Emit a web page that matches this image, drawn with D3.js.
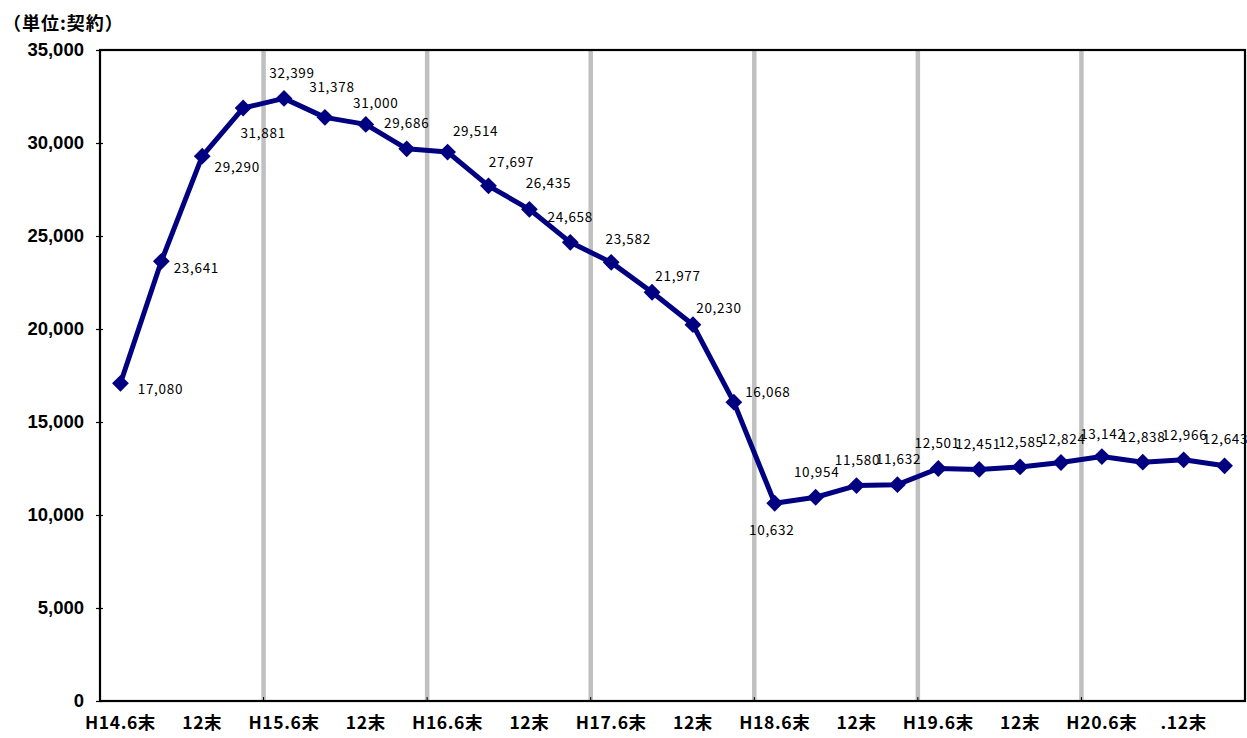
<!DOCTYPE html>
<html><head><meta charset="utf-8">
<script src="https://cdn.jsdelivr.net/npm/d3@7"></script>
<style>
body{margin:0;background:#fff;}
svg{display:block;}
</style></head>
<body>
<svg id="c" width="1247" height="738"></svg>
<script>
// ---- data ----
const periods = ["H14.6末","H14.9末","H14.12末","H15.3末","H15.6末","H15.9末","H15.12末","H16.3末",
  "H16.6末","H16.9末","H16.12末","H17.3末","H17.6末","H17.9末","H17.12末","H18.3末",
  "H18.6末","H18.9末","H18.12末","H19.3末","H19.6末","H19.9末","H19.12末","H20.3末",
  "H20.6末","H20.9末","H20.12末","H21.3末"];
const contracts = [17080,23641,29290,31881,32399,31378,31000,29686,29514,27697,26435,24658,
  23582,21977,20230,16068,10632,10954,11580,11632,12501,12451,12585,12824,13142,12838,12966,12643];
const tickLabels = ["H14.6末","12末","H15.6末","12末","H16.6末","12末","H17.6末","12末",
  "H18.6末","12末","H19.6末","12末","H20.6末",".12末"];
const yTicks = [0,5000,10000,15000,20000,25000,30000,35000];
const unitLabel = "（単位:契約）";

// ---- layout (label offsets relative to each marker: [dx, dy of baseline]) ----
const labelOffsets = [[40,11],[35,12],[35,16],[20,30],[8,-20],[7,-25],[10,-16],[0,-21],
  [28,-16],[23,-19],[19,-21],[0,-20],[17,-18],[26,-11],[26,-12],[34,-5],
  [-3,32],[1,-20],[1,-21],[1,-21],[-1,-20],[-1,-20],[1,-20],[2,-18],
  [1,-18],[0,-20],[1,-20],[1,-22]];

const L = 100, R = 1245, T = 50, B = 701;
const svg = d3.select("#c");

const x = d3.scaleBand().domain(d3.range(contracts.length)).range([L, R]).padding(0);
const y = d3.scaleLinear().domain([0, 35000]).range([B, T]);
const cx = i => x(i) + x.bandwidth() / 2;

// vertical gray separators every 4 periods
const sepIdx = d3.range(4, contracts.length, 4);
svg.append("g").selectAll("line").data(sepIdx).join("line")
  .attr("x1", i => x(i)).attr("x2", i => x(i))
  .attr("y1", T).attr("y2", B)
  .attr("stroke", "#c0c0c0").attr("stroke-width", 4.5);

// frame
svg.append("rect").attr("x", L).attr("y", T).attr("width", R - L).attr("height", B - T)
  .attr("fill", "none").attr("stroke", "#000").attr("stroke-width", 2.2);

// y axis
const yAxis = d3.axisLeft(y).tickValues(yTicks).tickSize(4).tickPadding(12)
  .tickFormat(d3.format(","));
const gy = svg.append("g").attr("transform", `translate(${L},0)`).call(yAxis);
gy.select(".domain").remove();
gy.selectAll(".tick line").attr("stroke", "#000").attr("stroke-width", 1.2).attr("x2", -4).attr("x1", 3);
gy.selectAll(".tick text").attr("font-family", "'Liberation Sans', Arial, sans-serif")
  .attr("font-weight", "bold").attr("font-size", 18.5).attr("fill", "#000");

// x tick labels (every other period)
const xLabIdx = d3.range(0, contracts.length, 2);
svg.append("g").selectAll("text").data(xLabIdx).join("text")
  .attr("x", i => cx(i)).attr("y", 729)
  .attr("text-anchor", "middle")
  .attr("font-family", "'Noto Sans CJK JP', sans-serif")
  .attr("font-weight", "bold").attr("font-size", 17.5).attr("letter-spacing", 0.6)
  .attr("fill", "#000")
  .text((i, k) => tickLabels[k]);

// x ticks at separators
svg.append("g").selectAll("line").data(sepIdx).join("line")
  .attr("x1", i => x(i)).attr("x2", i => x(i))
  .attr("y1", B - 4).attr("y2", B)
  .attr("stroke", "#000").attr("stroke-width", 1);

// unit label
svg.append("text").attr("x", 3).attr("y", 30)
  .attr("font-family", "'Noto Sans CJK JP', sans-serif")
  .attr("font-weight", "bold").attr("font-size", 18).attr("letter-spacing", 1)
  .attr("fill", "#000")
  .text(unitLabel);

// line
const line = d3.line().x((d, i) => cx(i)).y(d => y(d));
svg.append("path").datum(contracts).attr("d", line)
  .attr("fill", "none").attr("stroke", "#000080").attr("stroke-width", 5)
  .attr("stroke-linejoin", "round");

// diamond markers
const diamond = d3.symbol().type(d3.symbolDiamond2).size(180);
svg.append("g").selectAll("path").data(contracts).join("path")
  .attr("transform", (d, i) => `translate(${cx(i)},${y(d)})`)
  .attr("d", diamond).attr("fill", "#000080");

// data labels
svg.append("g").selectAll("text").data(contracts).join("text")
  .attr("x", (d, i) => cx(i) + labelOffsets[i][0])
  .attr("y", (d, i) => y(d) + labelOffsets[i][1])
  .attr("text-anchor", "middle")
  .attr("font-family", "'Noto Sans CJK JP', sans-serif")
  .attr("font-size", 13.5).attr("letter-spacing", 0.7).attr("fill", "#000")
  .text(d => d3.format(",")(d));
</script>
</body></html>
